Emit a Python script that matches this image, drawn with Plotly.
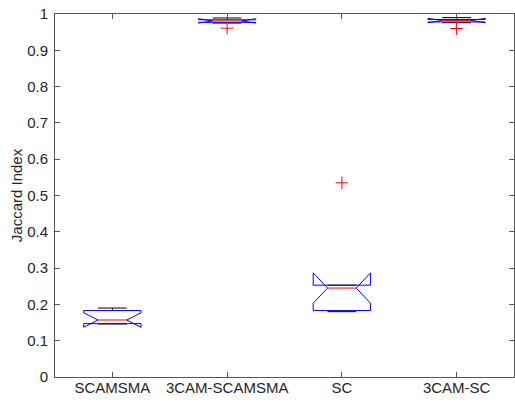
import plotly.graph_objects as go

# Box statistics per group (Jaccard index)
categories = ["SCAMSMA", "3CAM-SCAMSMA", "SC", "3CAM-SC"]
whisker_lo = [0.146, 0.975, 0.180, 0.976]
q1 = [0.147, 0.977, 0.183, 0.978]
median = [0.157, 0.981, 0.245, 0.982]
q3 = [0.183, 0.984, 0.253, 0.985]
whisker_hi = [0.190, 0.989, 0.253, 0.990]
notch_lo = [0.137, 0.975, 0.203, 0.976]
notch_hi = [0.177, 0.987, 0.287, 0.988]
outliers = [[], [0.961], [0.535], [0.960]]

y_ticks = [0, 0.1, 0.2, 0.3, 0.4, 0.5, 0.6, 0.7, 0.8, 0.9, 1]
y_tick_text = ["0", "0.1", "0.2", "0.3", "0.4", "0.5", "0.6", "0.7", "0.8", "0.9", "1"]

BOX_HALF = 0.25
NOTCH_HALF = 0.125
CAP_HALF = 0.125
BLUE = "#0000ff"
RED = "#ff0000"
BLACK = "#000000"

fig = go.Figure()


def add_line(xs, ys, color, dash="solid", width=1):
    fig.add_trace(go.Scatter(x=xs, y=ys, mode="lines",
                             line=dict(color=color, width=width, dash=dash),
                             hoverinfo="skip", showlegend=False))


for i, name in enumerate(categories):
    c = i + 1
    L, R = c - BOX_HALF, c + BOX_HALF
    nL, nR = c - NOTCH_HALF, c + NOTCH_HALF
    # whiskers (dashed) and caps
    add_line([c, c], [q3[i], whisker_hi[i]], BLACK, dash="dash")
    add_line([c, c], [q1[i], whisker_lo[i]], BLACK, dash="dash")
    add_line([c - CAP_HALF, c + CAP_HALF], [whisker_hi[i]] * 2, BLACK)
    add_line([c - CAP_HALF, c + CAP_HALF], [whisker_lo[i]] * 2, BLACK)
    # notched box outline
    xs = [L, L, nL, L, L, R, R, nR, R, R, L]
    ys = [q1[i], notch_lo[i], median[i], notch_hi[i], q3[i], q3[i],
          notch_hi[i], median[i], notch_lo[i], q1[i], q1[i]]
    add_line(xs, ys, BLUE)
    # median
    add_line([nL, nR], [median[i]] * 2, RED)
    # outliers
    if outliers[i]:
        fig.add_trace(go.Scatter(x=[c] * len(outliers[i]), y=outliers[i], mode="markers",
                                 marker=dict(symbol="cross-thin", size=9,
                                             line=dict(color=RED, width=1)),
                                 hoverinfo="skip", showlegend=False))

axis_color = "#555555"
font_family = "Liberation Sans, Arial, sans-serif"

fig.update_layout(
    width=515, height=403,
    margin=dict(l=55, r=1, t=14, b=26),
    paper_bgcolor="white", plot_bgcolor="white",
    font=dict(family=font_family, size=15, color="#262626"),
    xaxis=dict(range=[0.5, 4.5], tickvals=[1, 2, 3, 4], ticktext=categories,
               showgrid=False, zeroline=False, showline=True, mirror="ticks",
               linecolor=axis_color, linewidth=1, ticks="inside", ticklen=5,
               tickcolor=axis_color, tickfont=dict(size=15),
               ticklabelstandoff=-3),
    yaxis=dict(range=[0, 1], tickvals=y_ticks, ticktext=y_tick_text,
               showgrid=False, zeroline=False, showline=True, mirror="ticks",
               linecolor=axis_color, linewidth=1, ticks="inside", ticklen=5,
               tickcolor=axis_color, tickfont=dict(size=15),
               ticklabelstandoff=3,
               title=dict(text="Jaccard Index", font=dict(size=15), standoff=0)),
)

fig.write_html("out.html")
